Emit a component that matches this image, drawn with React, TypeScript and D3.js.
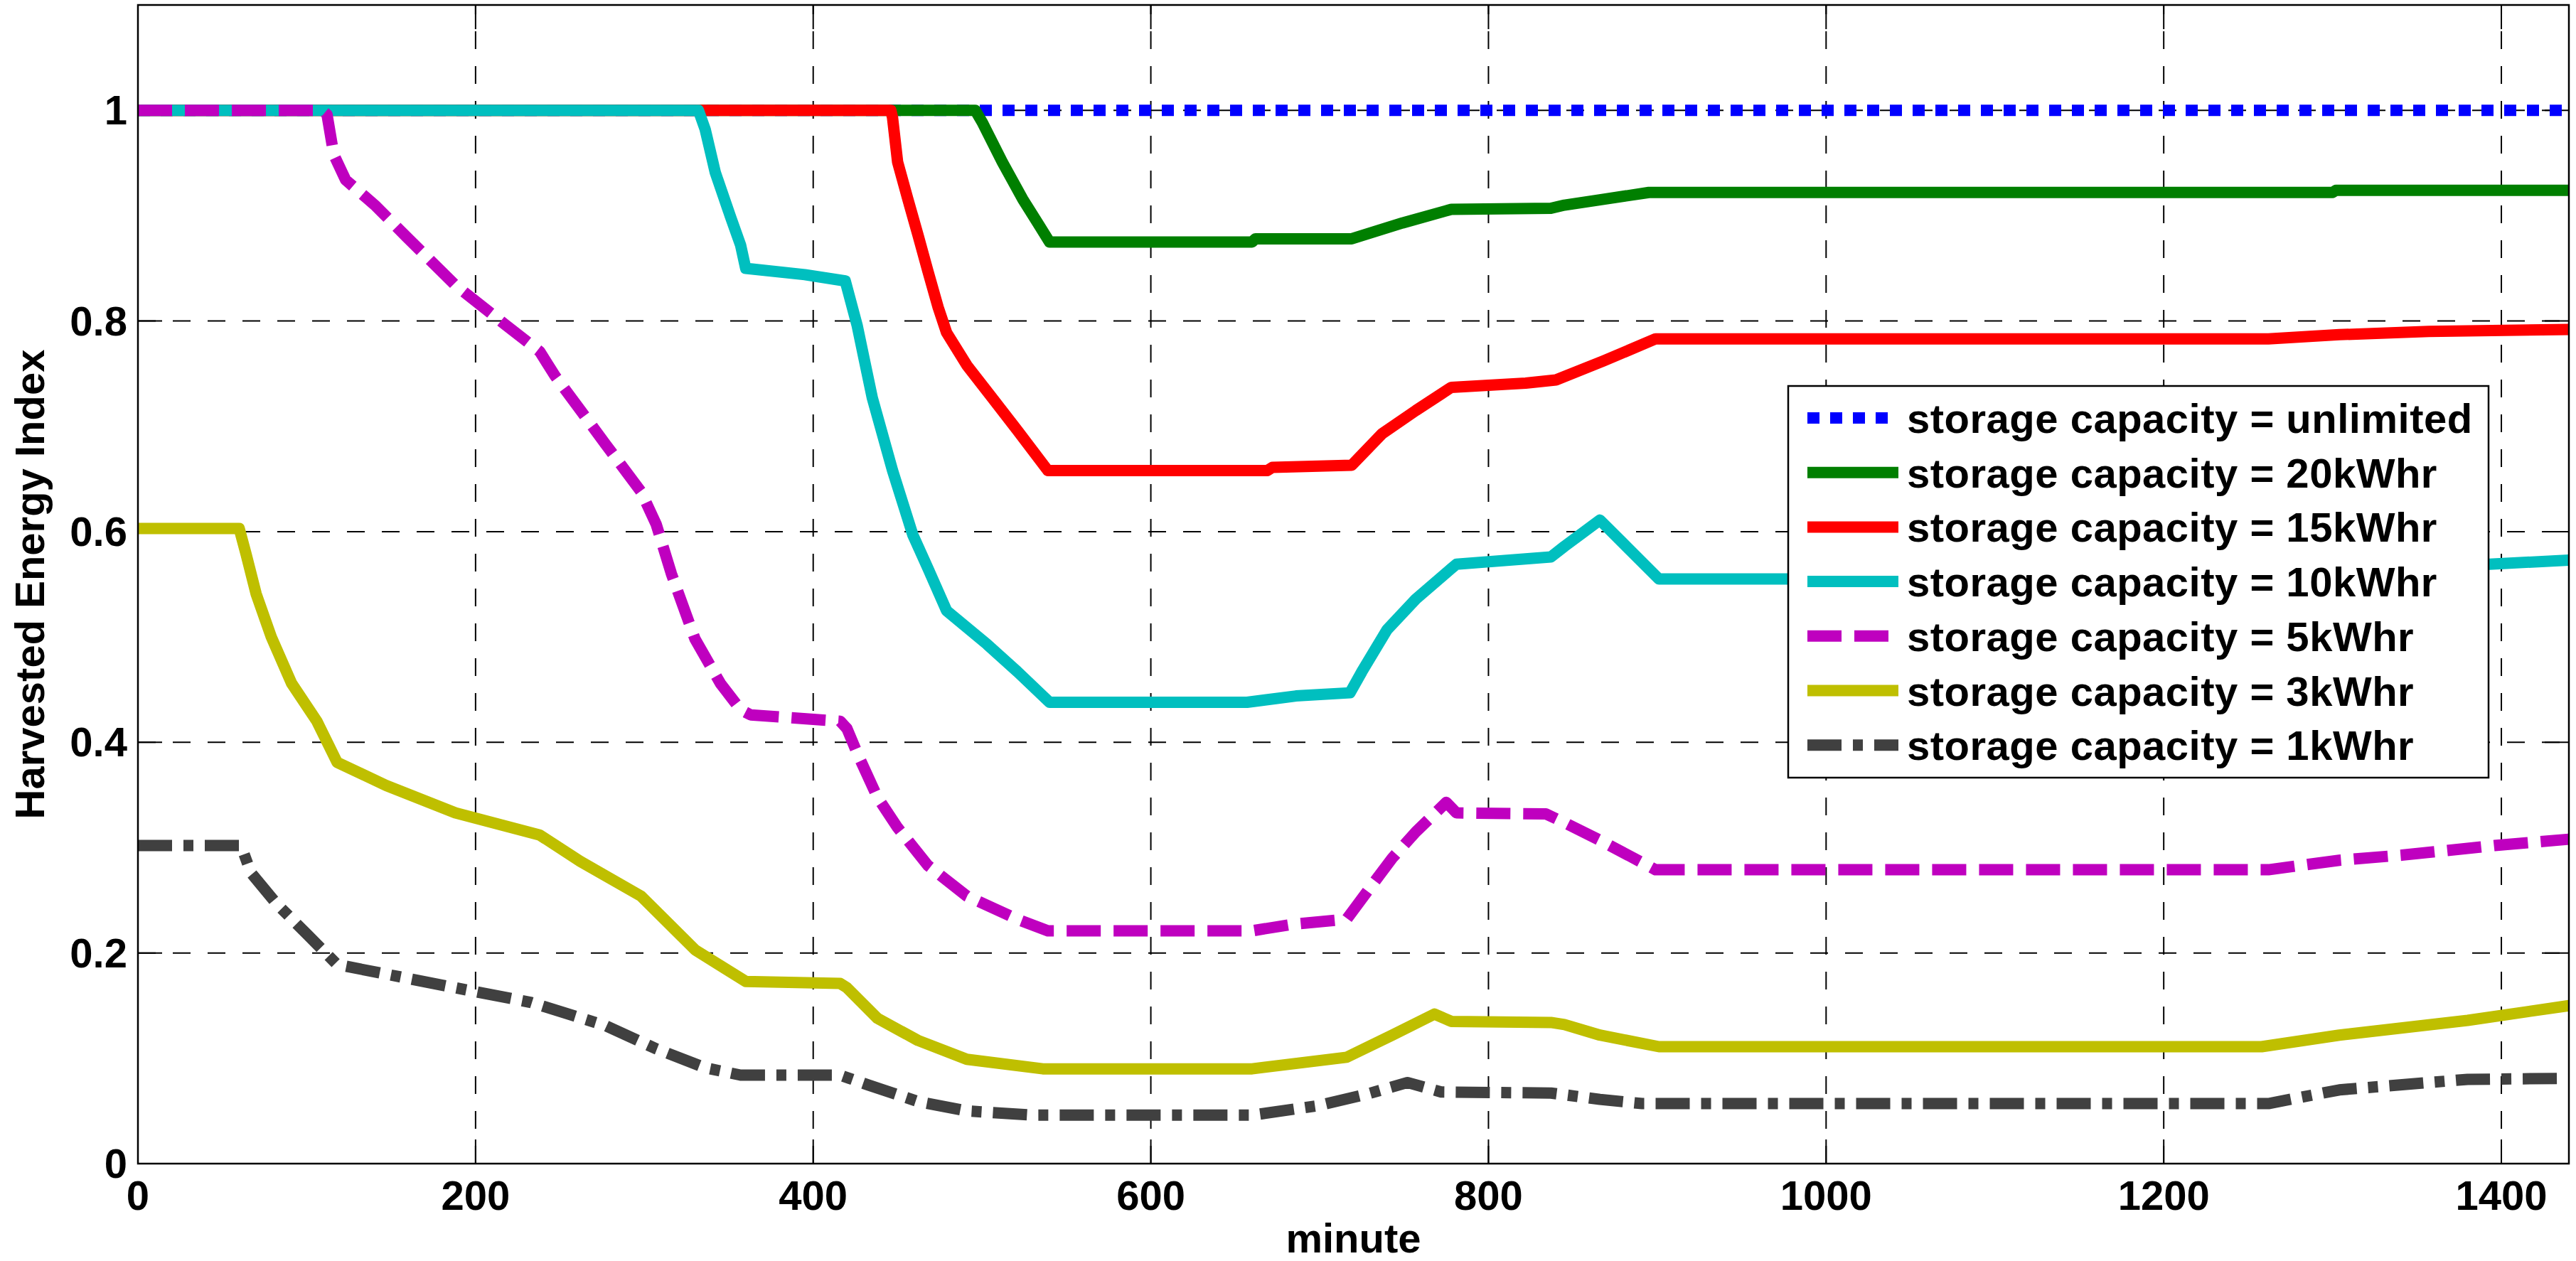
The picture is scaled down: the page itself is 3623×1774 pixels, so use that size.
import { line, scaleLinear } from 'd3'

type Pt = [number, number]

const xTicks = [0, 200, 400, 600, 800, 1000, 1200, 1400]
const yTicks = [0, 0.2, 0.4, 0.6, 0.8, 1]

const capUnlimited: Pt[] = [[0, 1], [1440, 1]]

const cap20: Pt[] = [
  [0, 1], [496, 1], [500, 0.989], [512, 0.951], [524, 0.916], [533, 0.893], [540, 0.875],
  [660, 0.875], [662, 0.878], [719, 0.878], [749, 0.893], [778, 0.906], [837, 0.907],
  [845, 0.91], [866, 0.915], [895, 0.922], [1300, 0.922], [1302, 0.924], [1440, 0.924],
]

const cap15: Pt[] = [
  [0, 1], [446, 1], [447, 0.993], [450, 0.951], [456, 0.916], [462, 0.882], [468, 0.847],
  [474, 0.813], [479, 0.789], [491, 0.758], [506, 0.727], [521, 0.696], [539, 0.658],
  [669, 0.658], [672, 0.661], [719, 0.663], [737, 0.693], [757, 0.715], [778, 0.737],
  [822, 0.741], [840, 0.744], [868, 0.762], [899, 0.783], [1262, 0.783], [1304, 0.787],
  [1357, 0.79], [1440, 0.792],
]

const cap10: Pt[] = [
  [0, 1], [332, 1], [336, 0.982], [342, 0.941], [351, 0.899], [357, 0.872], [360, 0.85],
  [395, 0.844], [419, 0.838], [426, 0.796], [435, 0.727], [447, 0.658], [459, 0.597],
  [468, 0.565], [479, 0.525], [503, 0.493], [521, 0.467], [540, 0.438], [657, 0.438],
  [686, 0.444], [718, 0.447], [725, 0.467], [740, 0.507], [757, 0.536], [778, 0.565],
  [781, 0.569], [837, 0.576], [845, 0.586], [866, 0.611], [901, 0.555], [1260, 0.555],
  [1350, 0.565], [1393, 0.569], [1440, 0.573],
]

const cap5: Pt[] = [
  [0, 1], [109, 1], [112, 0.996], [116, 0.958], [123, 0.934], [141, 0.909], [159, 0.88],
  [188, 0.834], [218, 0.796], [238, 0.771], [247, 0.748], [277, 0.683], [298, 0.638],
  [307, 0.607], [316, 0.56], [330, 0.498], [345, 0.456], [357, 0.431], [363, 0.426],
  [416, 0.42], [420, 0.413], [426, 0.39], [438, 0.348], [450, 0.319], [468, 0.283],
  [491, 0.254], [521, 0.232], [539, 0.221], [660, 0.221], [683, 0.227], [716, 0.232],
  [728, 0.258], [743, 0.29], [757, 0.315], [775, 0.343], [781, 0.333], [834, 0.332],
  [846, 0.323], [866, 0.307], [899, 0.279], [1262, 0.279], [1304, 0.288], [1342, 0.293],
  [1396, 0.302], [1440, 0.308],
]

const cap3: Pt[] = [
  [0, 0.603], [60, 0.603], [64, 0.579], [70, 0.541], [79, 0.5], [91, 0.456], [106, 0.42],
  [118, 0.381], [147, 0.359], [188, 0.333], [238, 0.312], [262, 0.287], [298, 0.254],
  [330, 0.203], [360, 0.173], [416, 0.171], [420, 0.167], [438, 0.138], [462, 0.117],
  [491, 0.099], [536, 0.09], [660, 0.09], [716, 0.101], [743, 0.122], [768, 0.142],
  [778, 0.135], [837, 0.134], [845, 0.132], [866, 0.122], [901, 0.111], [1258, 0.111],
  [1304, 0.122], [1380, 0.136], [1440, 0.15],
]

const cap1: Pt[] = [
  [0, 0.302], [61, 0.302], [67, 0.276], [82, 0.247], [100, 0.218], [118, 0.189],
  [188, 0.167], [233, 0.153], [277, 0.131], [307, 0.109], [336, 0.091], [357, 0.084],
  [416, 0.084], [432, 0.075], [462, 0.059], [491, 0.05], [531, 0.046], [660, 0.046],
  [699, 0.055], [728, 0.066], [752, 0.077], [772, 0.068], [837, 0.067], [866, 0.061],
  [891, 0.057], [1262, 0.057], [1304, 0.07], [1380, 0.08], [1440, 0.081],
]

const series = [
  { label: 'storage capacity = unlimited', data: capUnlimited, color: '#0000ff', dash: '17 15' },
  { label: 'storage capacity = 20kWhr', data: cap20, color: '#007f00', dash: undefined },
  { label: 'storage capacity = 15kWhr', data: cap15, color: '#ff0000', dash: undefined },
  { label: 'storage capacity = 10kWhr', data: cap10, color: '#00bfbf', dash: undefined },
  { label: 'storage capacity = 5kWhr', data: cap5, color: '#bf00bf', dash: '48 18' },
  { label: 'storage capacity = 3kWhr', data: cap3, color: '#bfbf00', dash: undefined },
  { label: 'storage capacity = 1kWhr', data: cap1, color: '#404040', dash: '48 16 14 16' },
]

export default function App() {
  const width = 3623
  const height = 1774
  const left = 194
  const right = 3613
  const top = 7
  const bottom = 1637
  const font = '"Liberation Sans", Arial, Helvetica, sans-serif'
  const fs = 58
  const tick = 34

  const x = scaleLinear().domain([0, 1440]).range([left, right])
  const y = scaleLinear().domain([0, 1.1]).range([bottom, top])
  const path = line<Pt>()
    .x((d) => x(d[0]))
    .y((d) => y(d[1]))

  const legend = { x0: 2515, x1: 3500, y0: 543, y1: 1094, row0: 588, step: 76.7 }

  return (
    <svg
      width={width}
      height={height}
      viewBox={`0 0 ${width} ${height}`}
      style={{ position: 'absolute', left: 0, top: 0, display: 'block', background: '#fff' }}
      fontFamily={font}
      fontWeight="bold"
    >
      <rect width={width} height={height} fill="#ffffff" />

      {xTicks.map((t) => (
        <line key={`gx${t}`} x1={x(t)} x2={x(t)} y1={bottom} y2={top} stroke="#000" strokeWidth="2" strokeDasharray="25 24" />
      ))}
      {yTicks.map((t) => (
        <line key={`gy${t}`} x1={left} x2={right} y1={y(t)} y2={y(t)} stroke="#000" strokeWidth="2" strokeDasharray="25 24" />
      ))}

      {xTicks.map((t) => (
        <g key={`tx${t}`} stroke="#000" strokeWidth="2">
          <line x1={x(t)} x2={x(t)} y1={bottom} y2={bottom - tick} />
          <line x1={x(t)} x2={x(t)} y1={top} y2={top + tick} />
        </g>
      ))}
      {yTicks.map((t) => (
        <g key={`ty${t}`} stroke="#000" strokeWidth="2">
          <line x1={left} x2={left + tick} y1={y(t)} y2={y(t)} />
          <line x1={right} x2={right - tick} y1={y(t)} y2={y(t)} />
        </g>
      ))}

      {series.map((s) => (
        <path
          key={s.label}
          d={path(s.data) ?? ''}
          fill="none"
          stroke={s.color}
          strokeWidth="16"
          strokeDasharray={s.dash}
          strokeLinejoin="round"
        />
      ))}

      <rect x={left} y={top} width={right - left} height={bottom - top} fill="none" stroke="#000" strokeWidth="2.5" />

      {xTicks.map((t) => (
        <text key={`lx${t}`} x={x(t)} y={1702} textAnchor="middle" fontSize={fs} fill="#000">
          {t}
        </text>
      ))}
      {yTicks.map((t) => (
        <text key={`ly${t}`} x={179} y={y(t) + 20} textAnchor="end" fontSize={fs} fill="#000">
          {String(+t.toFixed(1))}
        </text>
      ))}

      <text x={(left + right) / 2} y={1762} textAnchor="middle" fontSize={fs} fill="#000">
        minute
      </text>
      <text transform={`translate(62, ${(top + bottom) / 2}) rotate(-90)`} textAnchor="middle" fontSize={fs} fill="#000">
        Harvested Energy Index
      </text>

      <rect
        x={legend.x0}
        y={legend.y0}
        width={legend.x1 - legend.x0}
        height={legend.y1 - legend.y0}
        fill="#ffffff"
        stroke="#000"
        strokeWidth="2.5"
      />
      {series.map((s, i) => {
        const cy = legend.row0 + i * legend.step
        return (
          <g key={`lg${s.label}`}>
            <line x1={2542} x2={2670} y1={cy} y2={cy} stroke={s.color} strokeWidth="16" strokeDasharray={s.dash} />
            <text x={2682} y={cy + 21} fontSize={fs} letterSpacing="0.5" fill="#000">
              {s.label}
            </text>
          </g>
        )
      })}
    </svg>
  )
}
